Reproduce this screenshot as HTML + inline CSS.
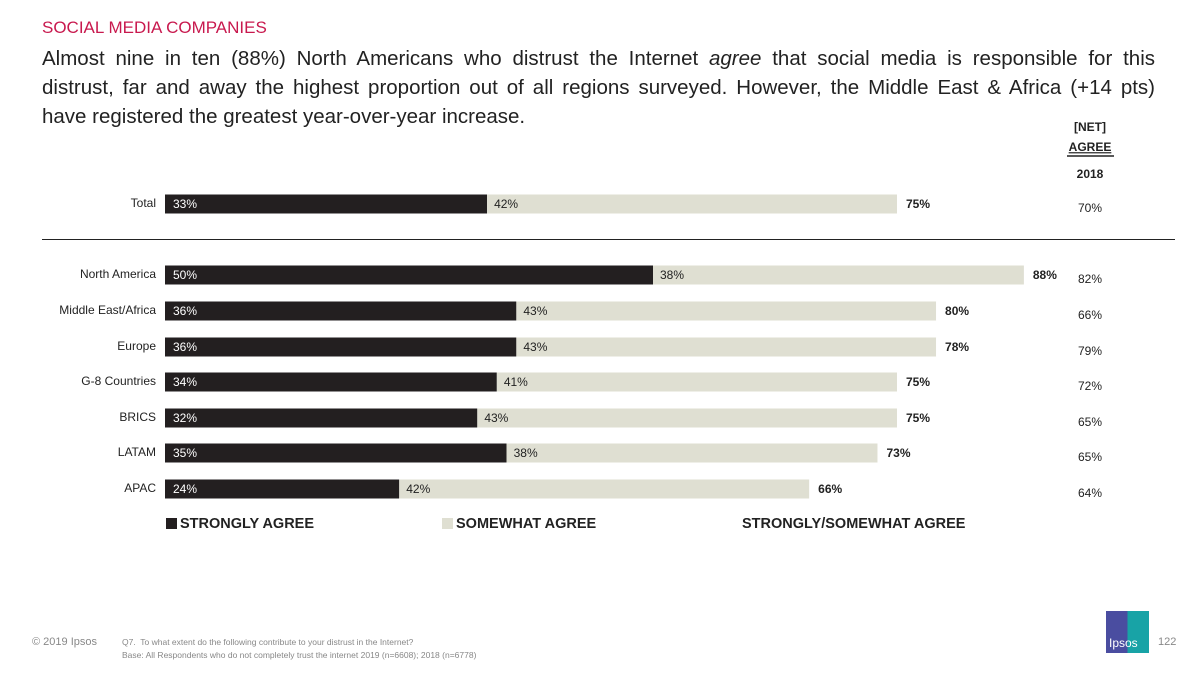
<!DOCTYPE html>
<html><head><meta charset="utf-8">
<style>
body{margin:0;width:1200px;height:675px;background:#fff;font-family:"Liberation Sans",sans-serif;position:relative;overflow:hidden}
.abs{position:absolute}
#title{left:42px;top:18px;font-size:17px;color:#c8194e}
#sub{left:42px;top:44px;width:1113px;font-size:20.5px;line-height:29px;color:#222}
#sub div{text-align:justify;text-align-last:justify;white-space:nowrap}
#sub div.last{text-align-last:left}
svg{position:absolute;left:0;top:0}
</style></head><body>
<div class="abs" id="title">SOCIAL MEDIA COMPANIES</div>
<div class="abs" id="sub"><div style="white-space:normal">Almost nine in ten (88%) North Americans who distrust the Internet <i>agree</i> that social media is responsible for this</div><div style="white-space:normal">distrust, far and away the highest proportion out of all regions surveyed. However, the Middle East &amp; Africa (+14 pts)</div><div class="last">have registered the greatest year-over-year increase.</div></div>
<svg id="chart" width="1200" height="675"></svg>
<div class="abs" style="left:32px;top:636px;font-size:11px;color:#888">© 2019 Ipsos</div>
<div class="abs" style="left:122px;top:636px;font-size:8.5px;color:#888;line-height:13px">Q7.&nbsp; To what extent do the following contribute to your distrust in the Internet?<br>Base: All Respondents who do not completely trust the internet 2019 (n=6608); 2018 (n=6778)</div>
<div class="abs" style="left:1106px;top:611px;width:43px;height:42px;background:linear-gradient(90deg,#4a4da0 50%,#18a3a6 50%)"><span style="position:absolute;bottom:3px;left:3px;color:#fff;font-size:12px">Ipsos</span></div>
<div class="abs" style="left:1158px;top:636px;font-size:11px;color:#888">122</div>
<script>
const categories=["Total","North America","Middle East/Africa","Europe","G-8 Countries","BRICS","LATAM","APAC"];
const strongly=[33,50,36,36,34,32,35,24];
const somewhat=[42,38,43,43,41,43,38,42];
const netLabels=[75,88,80,78,75,75,73,66];
const net2018=[70,82,66,79,72,65,65,64];
const rowY=[204,275,311,347,382,418,453,489];
const svg=document.getElementById('chart');
const NS='http://www.w3.org/2000/svg';
const x0=165,scale=9.76;
const X=v=>x0+v*scale;
function mk(t,a,txt){const e=document.createElementNS(NS,t);for(const k in a)e.setAttribute(k,a[k]);if(txt!==undefined)e.textContent=txt;svg.appendChild(e);return e;}
function txt(x,y,s,opts){return mk('text',Object.assign({x:x,y:y,'font-size':12,'font-family':'Liberation Sans, sans-serif','dominant-baseline':'middle',fill:'#222'},opts||{}),s);}
let h;
h=txt(1090,128,'[NET]',{'font-weight':'bold','text-anchor':'middle'});

h=txt(1090,148,'AGREE',{'font-weight':'bold','text-anchor':'middle','text-decoration':'underline'});

mk('line',{x1:1067,x2:1114,y1:156,y2:156,stroke:'#222','stroke-width':1.5});
h=txt(1090,175,'2018',{'font-weight':'bold','text-anchor':'middle'});

h=mk('line',{x1:42,x2:1175,y1:239.5,y2:239.5,stroke:'#222','stroke-width':1});

categories.forEach((c,i)=>{
  const y=rowY[i],bh=19;
  let e=txt(156,y,c,{'text-anchor':'end'});
  
  e=mk('rect',{x:X(0),y:y-bh/2,width:X(strongly[i])-X(0),height:bh,fill:'#231f20'});
  
  e=mk('rect',{x:X(strongly[i]),y:y-bh/2,width:X(strongly[i]+somewhat[i])-X(strongly[i]),height:bh,fill:'#dfdfd2'});
  
  e=txt(X(0)+8,y+1,strongly[i]+'%',{fill:'#fff'});
  
  e=txt(X(strongly[i])+7,y+1,somewhat[i]+'%');
  
  e=txt(X(strongly[i]+somewhat[i])+9,y+1,netLabels[i]+'%',{'font-weight':'bold'});
  
  e=txt(1090,y+5,net2018[i]+'%',{'text-anchor':'middle'});
  
});
let l=mk('rect',{x:166,y:518,width:11,height:11,fill:'#231f20'});

l=txt(180,524,'STRONGLY AGREE',{'font-weight':'bold','font-size':14.5});

l=mk('rect',{x:442,y:518,width:11,height:11,fill:'#dfdfd2'});

l=txt(456,524,'SOMEWHAT AGREE',{'font-weight':'bold','font-size':14.5});

l=txt(742,524,'STRONGLY/SOMEWHAT AGREE',{'font-weight':'bold','font-size':14.5});

</script>
</body></html>
